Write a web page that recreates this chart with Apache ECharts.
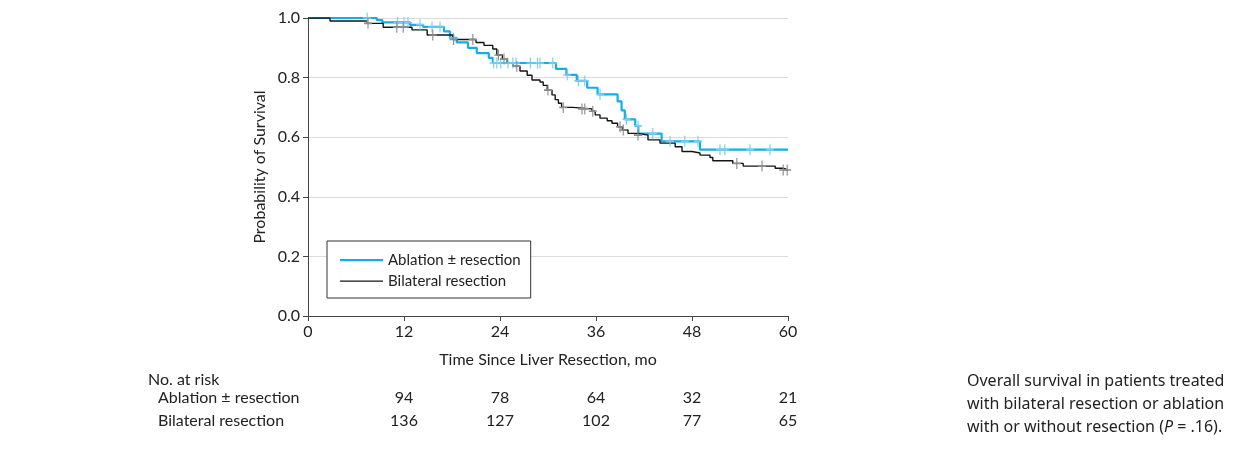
<!DOCTYPE html>
<html><head><meta charset="utf-8">
<script src="https://cdn.jsdelivr.net/npm/echarts@6/dist/echarts.min.js"></script>
<style>html,body{margin:0;padding:0;background:#fff}#c{width:1233px;height:453px}</style>
</head><body><div id="c"></div>
<script>
// ---- data ----
const seriesNames = ['Ablation ± resection', 'Bilateral resection'];
const xTicks = [0, 12, 24, 36, 48, 60];
const yTicks = [0, 0.2, 0.4, 0.6, 0.8, 1.0];

const ablTimes = [0, 8.6, 9.3, 12.75, 14.4, 17, 17.75, 18.6, 20, 21.1, 22.6, 23.1, 31.0, 32.3, 33.6, 34.9, 36.2, 38.7, 39.2, 39.6, 40.9, 41.3, 44.2, 49.0, 60];
const ablSurv  = [1.0, 0.993, 0.985, 0.977, 0.97, 0.955, 0.933, 0.918, 0.9, 0.882, 0.866, 0.849, 0.829, 0.809, 0.789, 0.766, 0.744, 0.72, 0.69, 0.66, 0.638, 0.612, 0.586, 0.558, 0.558];
const ablCensor = [7.4, 11.2, 12.0, 12.5, 14.0, 15.5, 16.5, 18.2, 23.2, 23.6, 24.1, 25.0, 25.6, 26.0, 27.8, 28.7, 29.0, 30.6, 32.4, 33.8, 34.6, 36.5, 39.8, 41.25, 43.1, 45.25, 47.1, 48.75, 51.5, 52.1, 55.25, 57.75];

const bilTimes = [0, 2.75, 7.4, 9.4, 13.0, 14.9, 18.1, 21.0, 22.0, 23.1, 23.6, 24.3, 24.9, 25.6, 26.5, 27.4, 28.0, 29.0, 29.4, 29.9, 30.5, 30.9, 31.3, 31.7, 33.1, 35.5, 35.9, 36.5, 37.4, 38.0, 38.7, 39.3, 40.0, 41.25, 42.5, 44.0, 45.9, 46.75, 48.0, 49.0, 50.25, 50.6, 53.1, 54.4, 58.4, 59.4, 60];
const bilSurv  = [1.0, 0.99, 0.982, 0.969, 0.96, 0.943, 0.928, 0.918, 0.908, 0.896, 0.876, 0.862, 0.85, 0.838, 0.822, 0.808, 0.792, 0.785, 0.774, 0.758, 0.742, 0.726, 0.714, 0.70, 0.695, 0.687, 0.675, 0.664, 0.655, 0.647, 0.635, 0.624, 0.613, 0.607, 0.591, 0.58, 0.568, 0.552, 0.547, 0.54, 0.532, 0.521, 0.512, 0.503, 0.496, 0.49, 0.49];
const bilCensor = [7.5, 11.1, 11.9, 15.6, 18.2, 20.6, 23.8, 24.5, 26.1, 30.0, 31.9, 34.25, 34.6, 35.6, 39.0, 39.4, 41.25, 53.6, 56.75, 59.4, 59.9];

const riskTimes = [12, 24, 36, 48, 60];
const riskAbl = [94, 78, 64, 32, 21];
const riskBil = [136, 127, 102, 77, 65];

// ---- helpers ----
function survAt(times, surv, t) {
  let v = surv[0];
  for (let i = 0; i < times.length; i++) { if (times[i] <= t) v = surv[i]; else break; }
  return v;
}
const pairs = (a, b) => a.map((t, i) => [t, b[i]]);
const censorPts = (c, times, surv) => c.map(t => [t, survAt(times, surv, t)]);

const BLUE = '#14ade6', BLUE_C = '#79ccef', BLACK = '#141414', BLACK_C = '#8c8c8c';
const FONT = 'Lato';
const plus = 'path://M4.3,0 H5.7 V10 H4.3 Z M0,4.3 H10 V5.7 H0 Z';
// legend line icons (the zero-width stroke at x=0 only fixes the icon box height)
const iconBlue = 'path://M0,7 H43 V9.2 H0 Z M0,0 H0.01 V16 H0 Z';
const iconBlack = 'path://M0,7.4 H43 V8.8 H0 Z M0,0 H0.01 V16 H0 Z';

const chart = echarts.init(document.getElementById('c'));
const option = {
  animation: false,
  textStyle: { fontFamily: FONT },
  grid: { left: 308, top: 18, width: 480, height: 298 },
  xAxis: {
    type: 'value', min: 0, max: 60, interval: 12,
    name: 'Time Since Liver Resection, mo', nameLocation: 'middle', nameGap: 36,
    nameTextStyle: { fontSize: 16, color: '#222', fontFamily: FONT },
    axisLine: { show: true, lineStyle: { color: '#444', width: 1 } },
    axisTick: { show: true, length: 5, lineStyle: { color: '#444' } },
    axisLabel: { fontSize: 16, color: '#222', margin: 8, fontFamily: FONT },
    splitLine: { show: false }
  },
  yAxis: {
    type: 'value', min: 0, max: 1, interval: 0.2,
    name: 'Probability of Survival', nameLocation: 'middle', nameGap: 40,
    nameTextStyle: { fontSize: 16, color: '#222', fontFamily: FONT },
    axisLine: { show: true, lineStyle: { color: '#444', width: 1 } },
    axisTick: { show: true, length: 5, lineStyle: { color: '#444' } },
    axisLabel: { fontSize: 16, color: '#222', margin: 8, fontFamily: FONT, formatter: v => v.toFixed(1) },
    splitLine: { show: true, lineStyle: { color: '#dcdcdc', width: 1 } }
  },
  legend: {
    orient: 'vertical', left: 327, top: 241,
    data: [{ name: seriesNames[0], icon: iconBlue }, { name: seriesNames[1], icon: iconBlack }],
    backgroundColor: '#fff', borderColor: '#333', borderWidth: 1, borderRadius: 0,
    padding: [11, 10, 9, 13], itemWidth: 43, itemHeight: 16, itemGap: 5,
    textStyle: { fontSize: 15, color: '#222', fontFamily: FONT }
  },
  series: [
    { name: seriesNames[0], type: 'line', step: 'end', showSymbol: false, symbol: 'none',
      data: pairs(ablTimes, ablSurv), lineStyle: { color: BLUE, width: 2.2 }, itemStyle: { color: BLUE }, z: 3 },
    { name: seriesNames[1], type: 'line', step: 'end', showSymbol: false, symbol: 'none',
      data: pairs(bilTimes, bilSurv), lineStyle: { color: BLACK, width: 1.4 }, itemStyle: { color: BLACK }, z: 4 },
    { name: 'abl-censor', type: 'scatter', symbol: plus, symbolSize: [8, 11],
      data: censorPts(ablCensor, ablTimes, ablSurv), itemStyle: { color: BLUE_C, opacity: 1 }, z: 5, silent: true },
    { name: 'bil-censor', type: 'scatter', symbol: plus, symbolSize: [8, 11],
      data: censorPts(bilCensor, bilTimes, bilSurv), itemStyle: { color: BLACK_C, opacity: 1 }, z: 5, silent: true }
  ]
};
chart.setOption(option);

// ---- risk table & caption ----
const g = [];
const rowY = [398, 421];
g.push({ type: 'text', x: 148, y: 380, style: { text: 'No. at risk', fontSize: 16, fill: '#222', fontFamily: FONT, verticalAlign: 'middle' } });
g.push({ type: 'text', x: 158, y: rowY[0], style: { text: seriesNames[0], fontSize: 16, fill: '#222', fontFamily: FONT, verticalAlign: 'middle' } });
g.push({ type: 'text', x: 158, y: rowY[1], style: { text: seriesNames[1], fontSize: 16, fill: '#222', fontFamily: FONT, verticalAlign: 'middle' } });
riskTimes.forEach((t, i) => {
  const px = chart.convertToPixel({ xAxisIndex: 0 }, t);
  [riskAbl[i], riskBil[i]].forEach((v, r) => {
    g.push({ type: 'text', x: px, y: rowY[r], style: { text: String(v), fontSize: 16, fill: '#222', fontFamily: FONT, align: 'center', verticalAlign: 'middle' } });
  });
});
g.push({ type: 'text', x: 967, y: 370, style: {
  text: 'Overall survival in patients treated\nwith bilateral resection or ablation\nwith or without resection ({i|P} = .16).',
  fontSize: 16, lineHeight: 23, fill: '#222', fontFamily: 'Noto Sans',
  rich: { i: { fontStyle: 'italic', fontSize: 16, fontFamily: 'Noto Sans', fill: '#222', lineHeight: 23 } }
} });
chart.setOption({ graphic: g });
</script>
</body></html>
